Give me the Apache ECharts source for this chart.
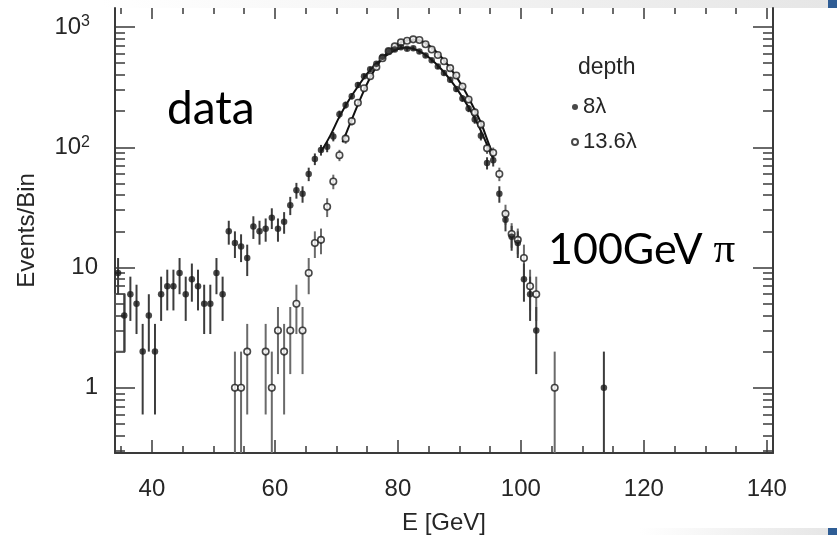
<!DOCTYPE html>
<html>
<head>
<meta charset="utf-8">
<script src="https://cdn.jsdelivr.net/npm/echarts@6/dist/echarts.min.js"></script>
<style>html,body{margin:0;padding:0;background:#fff;}#c{width:837px;height:535px;}</style>
</head>
<body>
<div id="c"></div>
<script>
// ---- data ----
const filledE = [34.5,35.5,36.5,37.5,38.5,39.5,40.5,41.5,42.5,43.5,44.5,45.5,46.5,47.5,48.5,49.5,50.5,51.5,52.5,53.5,54.5,55.5,56.5,57.5,58.5,59.5,60.5,61.5,62.5,63.5,64.5,65.5,66.5,67.5,68.5,69.5,70.5,71.5,72.5,73.5,74.5,75.5,76.5,77.5,78.5,79.5,80.5,81.5,82.5,83.5,84.5,85.5,86.5,87.5,88.5,89.5,90.5,91.5,92.5,93.5,94.5,95.5,96.5,97.5,98.5,99.5,100.5,101.5,102.5,113.5];
const filledN = [9,4,6,5,2,4,2,6,7,7,9,6,8,7,5,5,9,6,20,16,15,12,22,20,21,26,21,24,33,44,41,60,80,95,101,123,188,225,266,330,390,445,495,565,630,650,680,660,665,625,580,530,470,415,365,305,255,210,170,125,74,78,41,25,18,16,8,6,3,1];
const filledErr = [3,2,2.4,2.2,1.4,2,1.4,2.4,2.6,2.6,3,2.4,2.8,2.6,2.2,2.2,3,2.4,4.5,4,3.9,3.5,4.7,4.5,4.6,5.1,4.6,4.9,5.7,6.6,6.4,7.7,8.9,9.7,10,11,14,15,16,18,20,21,22,24,25,25,26,26,26,25,24,23,22,20,19,17,16,14,13,11,8.6,8.8,6.4,5,4.2,4,2.8,2.4,1.7,1];

const openE = [53.5,54.5,55.5,58.5,59.5,60.5,61.5,62.5,63.5,64.5,65.5,66.5,67.5,68.5,69.5,70.5,71.5,72.5,73.5,74.5,75.5,76.5,77.5,78.5,79.5,80.5,81.5,82.5,83.5,84.5,85.5,86.5,87.5,88.5,89.5,90.5,91.5,92.5,93.5,94.5,95.5,96.5,97.5,98.5,99.5,100.5,101.5,102.5,105.5];
const openN = [1,1,2,2,1,3,2,3,5,3,9,16,17,32,52,86,118,165,235,310,390,465,550,630,690,745,770,790,780,720,650,585,520,455,395,320,250,195,155,98,90,60,28,19,17,12,7,6,1];
const openErr = [1,1,1.4,1.4,1,1.7,1.4,1.7,2.2,1.7,3,4,4.1,5.7,7.2,9.3,11,13,15,18,20,22,23,25,26,27,28,28,28,27,25,24,23,21,20,18,16,14,12,9.9,9.5,7.7,5.3,4.4,4.1,3.5,2.6,2.4,1];

// fitted curves
const fitFilledE = [67.5,69,70.5,72,73.5,75,76.5,78,79.5,81,82.5,84,85.5,87,88.5,90,91.5,93,94.5,95.5];
const fitFilledN = [92,125,180,245,320,410,495,575,640,672,660,610,535,450,365,285,215,155,105,80];
const fitOpenE = [71,72.5,74,75.5,77,78.5,80,81.5,83,84.5,86,87.5,89,90.5,92,93.5,95,95.5];
const fitOpenN = [110,170,260,380,510,630,720,775,785,735,640,530,420,320,230,160,100,90];

// error box of the first bins
const boxE = [34, 35.6];
const boxN = [2, 6];

// axes
const xMin = 34, xMax = 141;
const yMin = 0.287, yMax = 1440;
const xMajor = [40,60,80,100,120,140];
const xMinor = [35,45,50,55,65,70,75,85,90,95,105,110,115,125,130,135];
const yMajor = [1,10,100,1000];
const yMinor = [0.3,0.4,0.5,0.6,0.7,0.8,0.9,2,3,4,5,6,7,8,9,20,30,40,50,60,70,80,90,200,300,400,500,600,700,800,900];

const AX = '#3a3a3a';
const TXT = '#262626';
const FONT = 'Liberation Sans, Arial, Helvetica, sans-serif';

function errData(E, N, err) {
  return E.map((e, i) => [e, N[i] - err[i], N[i] + err[i]]);
}
function errRender(color) {
  return function (params, api) {
    const x = api.value(0);
    const lo = Math.max(api.value(1), yMin);
    const hi = Math.min(api.value(2), yMax);
    const p1 = api.coord([x, lo]);
    const p2 = api.coord([x, hi]);
    return {type: 'line', shape: {x1: p1[0], y1: p1[1], x2: p2[0], y2: p2[1]},
      style: {stroke: color, lineWidth: 2}};
  };
}

const chart = echarts.init(document.getElementById('c'), null, {renderer: 'canvas'});

const grid = {left: 115, right: 64, top: 8, bottom: 82, containLabel: false, outerBoundsMode: 'none'};

function xAx(pos, ticks, len, extra) {
  return Object.assign({
    type: 'value', min: xMin, max: xMax, position: pos, gridIndex: 0,
    axisLine: {show: false},
    axisTick: {show: true, inside: true, length: len, customValues: ticks, lineStyle: {color: AX, width: 1.5}},
    axisLabel: {show: false},
    splitLine: {show: false}
  }, extra || {});
}
function yAx(pos, ticks, len, extra) {
  return Object.assign({
    type: 'log', logBase: 10, min: yMin, max: yMax, position: pos, gridIndex: 0,
    axisLine: {show: false},
    axisTick: {show: true, inside: true, length: len, customValues: ticks, lineStyle: {color: AX, width: 1.5}},
    axisLabel: {show: false},
    splitLine: {show: false}
  }, extra || {});
}

const option = {
  backgroundColor: '#fff',
  animation: false,
  grid: grid,
  xAxis: [
    xAx('bottom', xMajor, 13, {
      axisLine: {show: true, onZero: false, lineStyle: {color: AX, width: 2}},
      axisLabel: {show: true, customValues: xMajor, fontSize: 24, color: TXT, fontFamily: FONT, margin: 24},
      name: 'E [GeV]', nameLocation: 'middle', nameGap: 58,
      nameTextStyle: {fontSize: 24, color: TXT, fontFamily: FONT}
    }),
    xAx('bottom', xMinor, 7),
    xAx('top', xMajor, 11),
    xAx('top', xMinor, 6)
  ],
  yAxis: [
    yAx('left', yMajor, 20, {
      axisLine: {show: true, onZero: false, lineStyle: {color: AX, width: 2}},
      axisLabel: {show: true, customValues: yMajor, fontSize: 24, color: TXT, fontFamily: FONT, margin: 17,
        formatter: function (v) {
          const p = Math.round(Math.log10(v));
          if (p >= 2) return '{b|10}{s|' + p + '}';
          return '{b|' + Math.round(v) + '}';
        },
        rich: {
          b: {fontSize: 24, fontFamily: FONT, color: TXT},
          s: {fontSize: 16, fontFamily: FONT, color: TXT, verticalAlign: 'top', padding: [0, 8, 10, 0]}
        }
      },
      name: 'Events/Bin', nameLocation: 'middle', nameGap: 76,
      nameTextStyle: {fontSize: 24, color: TXT, fontFamily: FONT}
    }),
    yAx('left', yMinor, 10),
    yAx('right', yMajor, 20, {axisLine: {show: true, onZero: false, lineStyle: {color: AX, width: 2}}}),
    yAx('right', yMinor, 10)
  ],
  legend: {
    orient: 'vertical', left: 566, top: 91, itemWidth: 6, itemHeight: 6, itemGap: 13,
    selectedMode: false,
    textStyle: {fontSize: 22, color: TXT, fontFamily: FONT},
    data: [{name: '8λ', icon: 'circle'}, {name: '13.6λ', icon: 'circle'}]
  },
  graphic: [
    {type: 'rect', left: 100, top: 0, shape: {width: 728, height: 8},
      style: {fill: new echarts.graphic.LinearGradient(0, 0, 1, 0, [{offset: 0, color: '#ffffff'}, {offset: 1, color: '#e6e6e6'}])}},
    {type: 'rect', left: 828, top: 0, shape: {width: 9, height: 8}, style: {fill: '#2f5d95'}},
    {type: 'rect', left: 640, top: 528, shape: {width: 188, height: 7},
      style: {fill: new echarts.graphic.LinearGradient(0, 0, 1, 0, [{offset: 0, color: '#ffffff'}, {offset: 1, color: '#e6e6e6'}])}},
    {type: 'rect', left: 828, top: 528, shape: {width: 9, height: 7}, style: {fill: '#2f5d95'}},
    {type: 'text', left: 578, top: 56, style: {text: 'depth', fontSize: 23, fontFamily: FONT, fill: TXT}},
    {type: 'text', left: 167, top: 86, style: {text: 'data', fontSize: 46, fontFamily: 'Lato, Carlito, sans-serif', fill: '#000'}},
    {type: 'text', left: 548, top: 229, style: {text: '100GeV {pi|π}', fontSize: 43, fontFamily: 'Lato, Carlito, sans-serif', fill: '#000',
      rich: {pi: {fontSize: 43, fontFamily: 'Liberation Serif, DejaVu Serif, serif', fill: '#000'}}}}
  ],
  series: [
    {type: 'custom', xAxisIndex: 0, yAxisIndex: 0, silent: true, z: 1,
      data: [[boxE[0], boxN[0], boxE[1], boxN[1]]],
      encode: {x: [0, 2], y: [1, 3]},
      renderItem: function (params, api) {
        const a = api.coord([api.value(0), api.value(1)]);
        const b = api.coord([api.value(2), api.value(3)]);
        return {type: 'rect', shape: {x: a[0], y: b[1], width: b[0] - a[0], height: a[1] - b[1]},
          style: {fill: 'none', stroke: '#555', lineWidth: 1.5}};
      }},
    {type: 'custom', xAxisIndex: 0, yAxisIndex: 0, silent: true, z: 2,
      data: errData(openE, openN, openErr), encode: {x: 0, y: [1, 2]}, renderItem: errRender('#6a6a6a')},
    {type: 'custom', xAxisIndex: 0, yAxisIndex: 0, silent: true, z: 2,
      data: errData(filledE, filledN, filledErr), encode: {x: 0, y: [1, 2]}, renderItem: errRender('#3c3c3c')},
    {type: 'line', xAxisIndex: 0, yAxisIndex: 0, smooth: 0.4, symbol: 'none', z: 3,
      data: fitFilledE.map((e, i) => [e, fitFilledN[i]]), lineStyle: {color: '#111', width: 2}},
    {type: 'line', xAxisIndex: 0, yAxisIndex: 0, smooth: 0.4, symbol: 'none', z: 3,
      data: fitOpenE.map((e, i) => [e, fitOpenN[i]]), lineStyle: {color: '#111', width: 2}},
    {name: '13.6λ', type: 'scatter', xAxisIndex: 0, yAxisIndex: 0, symbol: 'circle', symbolSize: 6.5, z: 4,
      data: openE.map((e, i) => [e, openN[i]]),
      itemStyle: {color: '#fff', borderColor: '#1a1a1a', borderWidth: 1.6}},
    {name: '8λ', type: 'scatter', xAxisIndex: 0, yAxisIndex: 0, symbol: 'circle', symbolSize: 6.5, z: 5,
      data: filledE.map((e, i) => [e, filledN[i]]),
      itemStyle: {color: '#1a1a1a'}}
  ]
};
chart.setOption(option);
</script>
</body>
</html>
